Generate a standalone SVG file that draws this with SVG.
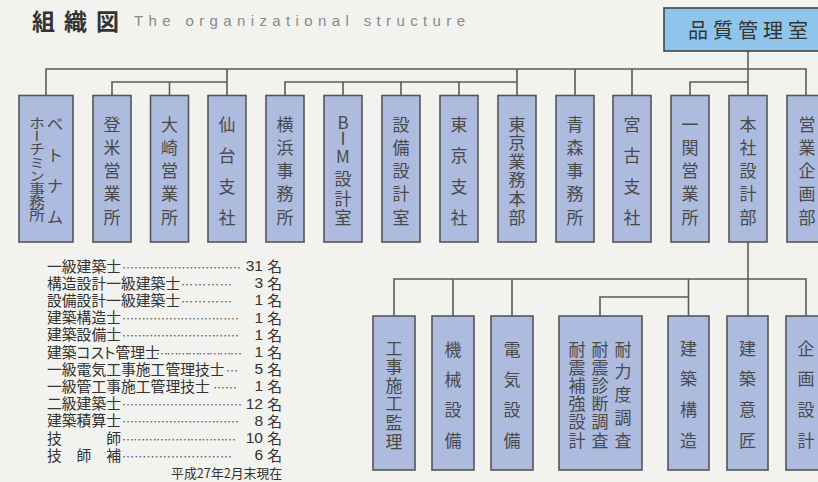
<svg xmlns="http://www.w3.org/2000/svg" width="818" height="482" viewBox="0 0 818 482">
<style>
.bg{fill:#f2f2ee}
.box{fill:#adbbdf;stroke:#555;stroke-width:1.6}
.top{fill:#8fc5ea;stroke:#444;stroke-width:1.6}
.con path{fill:none;stroke:#5a5a5a;stroke-width:1.6}
.lbl{font-family:"Noto Sans CJK JP","Noto Sans",sans-serif;font-size:17px;fill:#4a4a4a;text-anchor:middle;dominant-baseline:central}
.lst{font-family:"Noto Sans CJK JP","Noto Sans",sans-serif;font-size:14.8px;fill:#333;dominant-baseline:central}
.num{font-family:"Liberation Sans",sans-serif;font-size:15.5px;text-anchor:end}
.dot{font-family:"Noto Sans CJK JP",sans-serif;font-size:12px;fill:#555;dominant-baseline:central}
</style>
<rect class="bg" width="818" height="482"/>
<text x="32" y="20" style="font-family:'Noto Sans CJK JP',sans-serif;font-size:23px;font-weight:bold;fill:#333;letter-spacing:9px;dominant-baseline:central">組織図</text>
<text x="134" y="26" textLength="331" lengthAdjust="spacing" style="font-family:'Liberation Sans',sans-serif;font-size:15px;fill:#8a8a8a">The organizational structure</text>

<g class="con" id="connectors">
<path d="M46 95.5V69H806V95.5"/>
<path d="M227 69V95.5"/>
<path d="M112 95.5V82H227"/>
<path d="M169.5 82V95.5"/>
<path d="M285 95.5V82H517"/>
<path d="M343 82V95.5M401 82V95.5M459 82V95.5"/>
<path d="M517 69V95.5M575 69V95.5M632 69V95.5"/>
<path d="M690 95.5V82H748"/>
<path d="M748 51V95.5"/>
<path d="M748 242V316"/>
<path d="M394 316V279H806V316"/>
<path d="M453 279V316M512 279V316M688.5 279V316"/>
<path d="M600 316V297H688.5"/>
</g>

<g id="n-qa">
<rect class="top" x="664" y="8" width="170" height="43"/>
<text x="688" y="29.5" style="font-family:'Noto Sans CJK JP',sans-serif;font-size:20px;fill:#333;letter-spacing:5px;dominant-baseline:central">品質管理室</text>
</g>

<g id="n-vietnam">
<rect class="box" x="19" y="95.5" width="54" height="146.5"/>
<text class="lbl" style="font-size:16px" x="55 55 55 55" y="123 154 185 216">ベトナム</text>
<text x="37" y="116.5" writing-mode="vertical-rl" textLength="105.5" lengthAdjust="spacingAndGlyphs" style="font-family:'Noto Sans CJK JP',sans-serif;font-size:16px;fill:#4a4a4a">ホーチミン事務所</text>
</g>
<g id="n-tome"><rect class="box" x="93" y="95.5" width="38" height="146.5"/>
<text class="lbl" x="112 112 112 112 112" y="123 146.3 169.5 192.8 216">登米営業所</text></g>
<g id="n-osaki"><rect class="box" x="150.5" y="95.5" width="38" height="146.5"/>
<text class="lbl" x="169.5 169.5 169.5 169.5 169.5" y="123 146.3 169.5 192.8 216">大崎営業所</text></g>
<g id="n-sendai"><rect class="box" x="208" y="95.5" width="38" height="146.5"/>
<text class="lbl" x="227 227 227 227" y="123 154 185 216">仙台支社</text></g>
<g id="n-yokohama"><rect class="box" x="266" y="95.5" width="38" height="146.5"/>
<text class="lbl" x="285 285 285 285 285" y="123 146.3 169.5 192.8 216">横浜事務所</text></g>
<g id="n-bim"><rect class="box" x="324" y="95.5" width="38" height="146.5"/>
<text class="lbl" x="343 343 343 343 343 343" y="121 137 155 177 197 216">BIM設計室</text></g>
<g id="n-setsubi"><rect class="box" x="382" y="95.5" width="38" height="146.5"/>
<text class="lbl" x="401 401 401 401 401" y="123 146.3 169.5 192.8 216">設備設計室</text></g>
<g id="n-tokyo"><rect class="box" x="440" y="95.5" width="38" height="146.5"/>
<text class="lbl" x="459 459 459 459" y="123 154 185 216">東京支社</text></g>
<g id="n-tokyohq"><rect class="box" x="498" y="95.5" width="38" height="146.5"/>
<text class="lbl" x="517 517 517 517 517 517" y="123 141.6 160.2 178.8 197.4 216">東京業務本部</text></g>
<g id="n-aomori"><rect class="box" x="556" y="95.5" width="38" height="146.5"/>
<text class="lbl" x="575 575 575 575 575" y="123 146.3 169.5 192.8 216">青森事務所</text></g>
<g id="n-miyako"><rect class="box" x="613" y="95.5" width="38" height="146.5"/>
<text class="lbl" x="632 632 632 632" y="123 154 185 216">宮古支社</text></g>
<g id="n-ichinoseki"><rect class="box" x="671" y="95.5" width="38" height="146.5"/>
<text class="lbl" x="690 690 690 690 690" y="123 146.3 169.5 192.8 216">一関営業所</text></g>
<g id="n-honsha"><rect class="box" x="729" y="95.5" width="38" height="146.5"/>
<text class="lbl" x="748 748 748 748 748" y="123 146.3 169.5 192.8 216">本社設計部</text></g>
<g id="n-eigyo"><rect class="box" x="787" y="95.5" width="40" height="146.5"/>
<text class="lbl" x="807 807 807 807 807" y="123 146.3 169.5 192.8 216">営業企画部</text></g>

<g id="s-koji"><rect class="box" x="373" y="316" width="42" height="154"/>
<text class="lbl" x="394 394 394 394 394 394" y="347 365.6 384.2 402.8 421.4 440">工事施工監理</text></g>
<g id="s-kikai"><rect class="box" x="432" y="316" width="42" height="154"/>
<text class="lbl" x="453 453 453 453" y="348 378.3 408.6 439">機械設備</text></g>
<g id="s-denki"><rect class="box" x="491" y="316" width="42" height="154"/>
<text class="lbl" x="512 512 512 512" y="348 378.3 408.6 439">電気設備</text></g>
<g id="s-taishin"><rect class="box" x="559" y="316" width="83" height="154"/>
<text class="lbl" x="623 623 623 623 623" y="348 370.8 393.5 416.3 439">耐力度調査</text>
<text class="lbl" x="600 600 600 600 600 600" y="348 366.2 384.4 402.6 420.8 439">耐震診断調査</text>
<text class="lbl" x="577 577 577 577 577 577" y="348 366.2 384.4 402.6 420.8 439">耐震補強設計</text></g>
<g id="s-kozo"><rect class="box" x="668" y="316" width="41" height="154"/>
<text class="lbl" x="688.5 688.5 688.5 688.5" y="347 377.7 408.3 439">建築構造</text></g>
<g id="s-isho"><rect class="box" x="727" y="316" width="41" height="154"/>
<text class="lbl" x="747.5 747.5 747.5 747.5" y="347 377.7 408.3 439">建築意匠</text></g>
<g id="s-kikaku"><rect class="box" x="786" y="316" width="42" height="154"/>
<text class="lbl" x="806 806 806 806" y="347 377.7 408.3 439">企画設計</text></g>

<g id="staff">
<text class="lst" x="47" y="265">一級建築士</text><text class="dot" x="122" y="267" textLength="119" lengthAdjust="spacing">…………………………</text><text class="lst" y="265"><tspan class="num" x="263">31</tspan><tspan x="264"> 名</tspan></text>
<text class="lst" x="47" y="282.2">構造設計一級建築士</text><text class="dot" x="181" y="284.2" textLength="51" lengthAdjust="spacing">…………</text><text class="lst" y="282.2"><tspan class="num" x="263">3</tspan><tspan x="264"> 名</tspan></text>
<text class="lst" x="47" y="299.4">設備設計一級建築士</text><text class="dot" x="181" y="301.4" textLength="51" lengthAdjust="spacing">…………</text><text class="lst" y="299.4"><tspan class="num" x="263">1</tspan><tspan x="264"> 名</tspan></text>
<text class="lst" x="47" y="316.6">建築構造士</text><text class="dot" x="122" y="318.6" textLength="117" lengthAdjust="spacing">…………………………</text><text class="lst" y="316.6"><tspan class="num" x="263">1</tspan><tspan x="264"> 名</tspan></text>
<text class="lst" x="47" y="333.8">建築設備士</text><text class="dot" x="122" y="335.8" textLength="117" lengthAdjust="spacing">…………………………</text><text class="lst" y="333.8"><tspan class="num" x="263">1</tspan><tspan x="264"> 名</tspan></text>
<text class="lst" x="47" y="351">建築<tspan style="font-feature-settings:'palt'">コスト</tspan>管理士</text><text class="dot" x="156" y="353" textLength="86" lengthAdjust="spacing">……………………</text><text class="lst" y="351"><tspan class="num" x="263">1</tspan><tspan x="264"> 名</tspan></text>
<text class="lst" x="47" y="368.2">一級電気工事施工管理技士</text><text class="dot" x="226" y="370.2" textLength="11" lengthAdjust="spacing">…</text><text class="lst" y="368.2"><tspan class="num" x="263">5</tspan><tspan x="264"> 名</tspan></text>
<text class="lst" x="47" y="385.4">一級管工事施工管理技士</text><text class="dot" x="213" y="387.4" textLength="24" lengthAdjust="spacing">……</text><text class="lst" y="385.4"><tspan class="num" x="263">1</tspan><tspan x="264"> 名</tspan></text>
<text class="lst" x="47" y="402.6">二級建築士</text><text class="dot" x="122" y="404.6" textLength="120" lengthAdjust="spacing">…………………………</text><text class="lst" y="402.6"><tspan class="num" x="263">12</tspan><tspan x="264"> 名</tspan></text>
<text class="lst" x="47" y="419.8">建築積算士</text><text class="dot" x="122" y="421.8" textLength="117" lengthAdjust="spacing">…………………………</text><text class="lst" y="419.8"><tspan class="num" x="263">8</tspan><tspan x="264"> 名</tspan></text>
<text class="lst" x="47" y="437">技　　　師</text><text class="dot" x="122" y="439" textLength="114" lengthAdjust="spacing">…………………………</text><text class="lst" y="437"><tspan class="num" x="263">10</tspan><tspan x="264"> 名</tspan></text>
<text class="lst" x="47" y="454.2">技　師　補</text><text class="dot" x="122" y="456.2" textLength="110" lengthAdjust="spacing">………………………</text><text class="lst" y="454.2"><tspan class="num" x="263">6</tspan><tspan x="264"> 名</tspan></text>
<text class="lst" x="282" y="472.5" text-anchor="end" style="font-size:12.8px">平成27年2月末現在</text>
</g>
</svg>
